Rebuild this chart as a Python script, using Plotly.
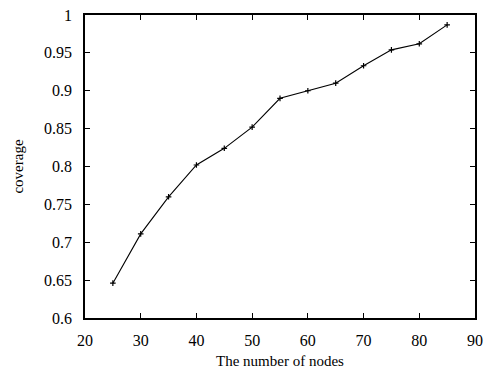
import plotly.graph_objects as go

# Coverage versus number of deployed nodes
nodes = [25, 30, 35, 40, 45, 50, 55, 60, 65, 70, 75, 80, 85]
coverage = [0.646, 0.711, 0.760, 0.802, 0.824, 0.852, 0.890, 0.900, 0.910, 0.933, 0.954, 0.962, 0.987]

x_ticks = [20, 30, 40, 50, 60, 70, 80, 90]
y_ticks = [0.6, 0.65, 0.7, 0.75, 0.8, 0.85, 0.9, 0.95, 1.0]
y_tick_text = ["0.6", "0.65", "0.7", "0.75", "0.8", "0.85", "0.9", "0.95", "1"]

serif = "Liberation Serif, Times New Roman, serif"

fig = go.Figure(
    go.Scatter(
        x=nodes,
        y=coverage,
        mode="lines+markers",
        line=dict(color="black", width=1.1),
        marker=dict(symbol="cross-thin", size=4, line=dict(color="black", width=1.2)),
        showlegend=False,
    )
)

axis_common = dict(
    showgrid=False,
    zeroline=False,
    showline=True,
    linecolor="black",
    linewidth=1.5,
    mirror="ticks",
    ticks="inside",
    ticklen=5,
    tickcolor="black",
    automargin=False,
    tickfont=dict(family=serif, size=16, color="black"),
)

fig.update_xaxes(
    range=[20, 90],
    tickvals=x_ticks,
    title=dict(text="The number of nodes", font=dict(family=serif, size=15, color="black"), standoff=9),
    ticklabelstandoff=7,
    **axis_common,
)
fig.update_yaxes(
    range=[0.6, 1.0],
    tickvals=y_ticks,
    ticktext=y_tick_text,
    title=dict(text="coverage", font=dict(family=serif, size=15, color="black"), standoff=17),
    ticklabelstandoff=8,
    **axis_common,
)

fig.update_layout(
    width=485,
    height=369,
    margin=dict(l=85, r=10, t=15, b=51),
    paper_bgcolor="white",
    plot_bgcolor="white",
)

fig.write_html("out.html")
